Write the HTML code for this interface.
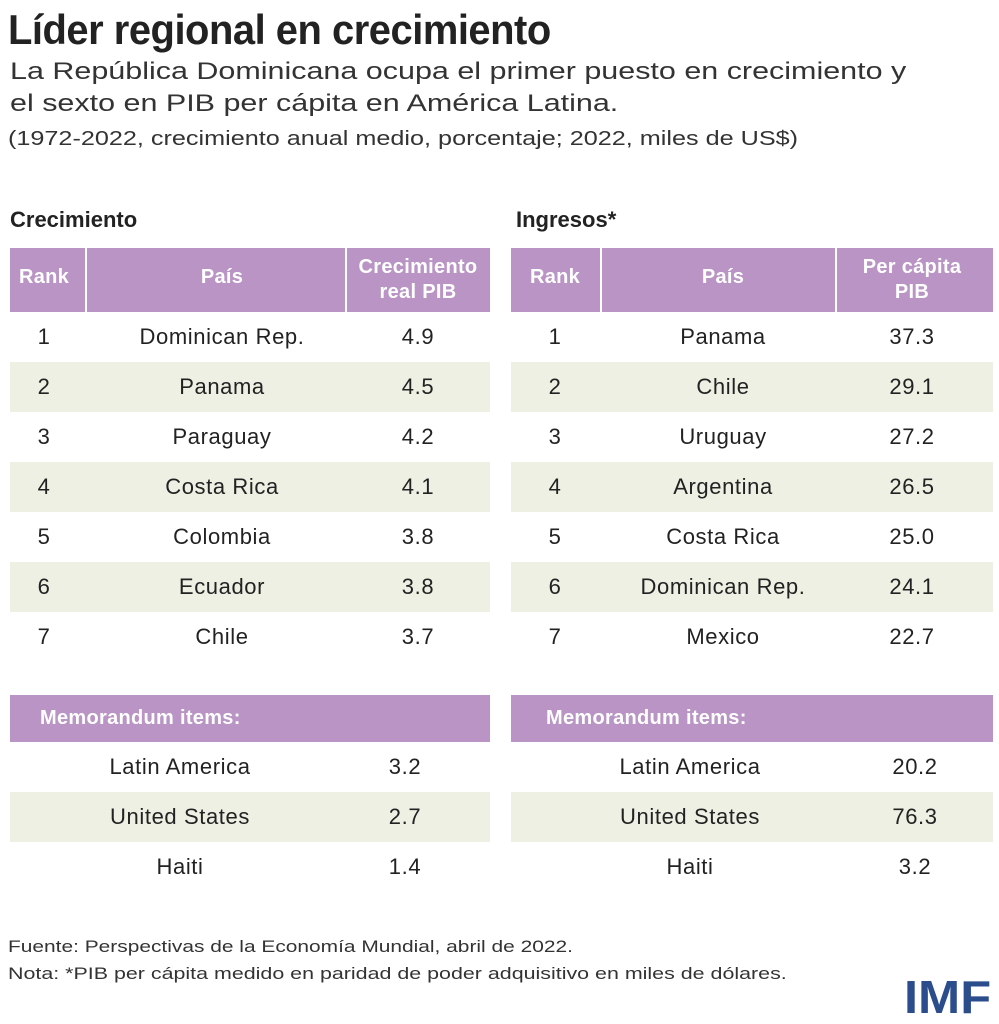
<!DOCTYPE html><html><head><meta charset="utf-8"><style>
body{margin:0;width:999px;height:1023px;background:#fff;position:relative;font-family:"Liberation Sans",sans-serif;color:#222;overflow:hidden}
.a{position:absolute;white-space:nowrap;transform-origin:0 0}
.c{position:absolute;text-align:center;transform:translateX(-50%);white-space:nowrap;font-size:22px;letter-spacing:0.6px}
.h{position:absolute;background:#b994c4}
.s{position:absolute;background:#eef0e4}
.w{color:#fff;font-weight:bold;font-size:20px;letter-spacing:0.3px}
</style></head><body>
<div class="a" style="left:8px;top:6px;font-weight:bold;font-size:42px;color:#222;letter-spacing:-0.5px;transform:scaleX(0.95)">Líder regional en crecimiento</div>
<div class="a" style="left:10px;top:58px;font-size:24px;color:#333;transform:scaleX(1.27)">La República Dominicana ocupa el primer puesto en crecimiento y</div>
<div class="a" style="left:10px;top:90px;font-size:24px;color:#333;transform:scaleX(1.27)">el sexto en PIB per cápita en América Latina.</div>
<div class="a" style="left:8px;top:128px;font-size:20px;color:#333;transform:scaleX(1.26)">(1972-2022, crecimiento anual medio, porcentaje; 2022, miles de US$)</div>
<div class="a" style="left:10px;top:207px;font-size:22px;font-weight:bold">Crecimiento</div>
<div class="a" style="left:516px;top:207px;font-size:22px;font-weight:bold">Ingresos*</div>

<div class="h" style="left:10px;top:248px;width:75px;height:64px"></div>
<div class="h" style="left:87px;top:248px;width:258px;height:64px"></div>
<div class="h" style="left:347px;top:248px;width:143px;height:64px"></div>
<div class="h" style="left:511px;top:248px;width:89px;height:64px"></div>
<div class="h" style="left:602px;top:248px;width:233px;height:64px"></div>
<div class="h" style="left:837px;top:248px;width:156px;height:64px"></div>
<div class="c w" style="left:44px;top:266px">Rank</div>
<div class="c w" style="left:222px;top:266px">País</div>
<div class="c w" style="left:418px;top:255px;line-height:25px">Crecimiento<br>real PIB</div>
<div class="c w" style="left:555px;top:266px">Rank</div>
<div class="c w" style="left:723px;top:266px">País</div>
<div class="c w" style="left:912px;top:255px;line-height:25px">Per cápita<br>PIB</div>

<div class="s" style="left:10px;top:362px;width:480px;height:50px"></div>
<div class="s" style="left:10px;top:462px;width:480px;height:50px"></div>
<div class="s" style="left:10px;top:562px;width:480px;height:50px"></div>
<div class="s" style="left:511px;top:362px;width:482px;height:50px"></div>
<div class="s" style="left:511px;top:462px;width:482px;height:50px"></div>
<div class="s" style="left:511px;top:562px;width:482px;height:50px"></div>

<div class="c" style="left:44px;top:324px">1</div><div class="c" style="left:222px;top:324px">Dominican Rep.</div><div class="c" style="left:418px;top:324px">4.9</div>
<div class="c" style="left:44px;top:374px">2</div><div class="c" style="left:222px;top:374px">Panama</div><div class="c" style="left:418px;top:374px">4.5</div>
<div class="c" style="left:44px;top:424px">3</div><div class="c" style="left:222px;top:424px">Paraguay</div><div class="c" style="left:418px;top:424px">4.2</div>
<div class="c" style="left:44px;top:474px">4</div><div class="c" style="left:222px;top:474px">Costa Rica</div><div class="c" style="left:418px;top:474px">4.1</div>
<div class="c" style="left:44px;top:524px">5</div><div class="c" style="left:222px;top:524px">Colombia</div><div class="c" style="left:418px;top:524px">3.8</div>
<div class="c" style="left:44px;top:574px">6</div><div class="c" style="left:222px;top:574px">Ecuador</div><div class="c" style="left:418px;top:574px">3.8</div>
<div class="c" style="left:44px;top:624px">7</div><div class="c" style="left:222px;top:624px">Chile</div><div class="c" style="left:418px;top:624px">3.7</div>

<div class="c" style="left:555px;top:324px">1</div><div class="c" style="left:723px;top:324px">Panama</div><div class="c" style="left:912px;top:324px">37.3</div>
<div class="c" style="left:555px;top:374px">2</div><div class="c" style="left:723px;top:374px">Chile</div><div class="c" style="left:912px;top:374px">29.1</div>
<div class="c" style="left:555px;top:424px">3</div><div class="c" style="left:723px;top:424px">Uruguay</div><div class="c" style="left:912px;top:424px">27.2</div>
<div class="c" style="left:555px;top:474px">4</div><div class="c" style="left:723px;top:474px">Argentina</div><div class="c" style="left:912px;top:474px">26.5</div>
<div class="c" style="left:555px;top:524px">5</div><div class="c" style="left:723px;top:524px">Costa Rica</div><div class="c" style="left:912px;top:524px">25.0</div>
<div class="c" style="left:555px;top:574px">6</div><div class="c" style="left:723px;top:574px">Dominican Rep.</div><div class="c" style="left:912px;top:574px">24.1</div>
<div class="c" style="left:555px;top:624px">7</div><div class="c" style="left:723px;top:624px">Mexico</div><div class="c" style="left:912px;top:624px">22.7</div>

<div class="h" style="left:10px;top:695px;width:480px;height:47px"></div>
<div class="h" style="left:511px;top:695px;width:482px;height:47px"></div>
<div class="a w" style="left:40px;top:707px">Memorandum items:</div>
<div class="a w" style="left:546px;top:707px">Memorandum items:</div>
<div class="s" style="left:10px;top:792px;width:480px;height:50px"></div>
<div class="s" style="left:511px;top:792px;width:482px;height:50px"></div>
<div class="c" style="left:180px;top:754px">Latin America</div><div class="c" style="left:405px;top:754px">3.2</div>
<div class="c" style="left:180px;top:804px">United States</div><div class="c" style="left:405px;top:804px">2.7</div>
<div class="c" style="left:180px;top:854px">Haiti</div><div class="c" style="left:405px;top:854px">1.4</div>
<div class="c" style="left:690px;top:754px">Latin America</div><div class="c" style="left:915px;top:754px">20.2</div>
<div class="c" style="left:690px;top:804px">United States</div><div class="c" style="left:915px;top:804px">76.3</div>
<div class="c" style="left:690px;top:854px">Haiti</div><div class="c" style="left:915px;top:854px">3.2</div>

<div class="a" style="left:8px;top:937px;font-size:17px;color:#333;transform:scaleX(1.23)">Fuente: Perspectivas de la Economía Mundial, abril de 2022.</div>
<div class="a" style="left:8px;top:964px;font-size:17px;color:#333;transform:scaleX(1.26)">Nota: *PIB per cápita medido en paridad de poder adquisitivo en miles de dólares.</div>
<div class="a" style="left:904px;top:970px;font-size:46px;font-weight:bold;color:#2b4d8c;transform:scaleX(1.1)">IMF</div>
</body></html>
